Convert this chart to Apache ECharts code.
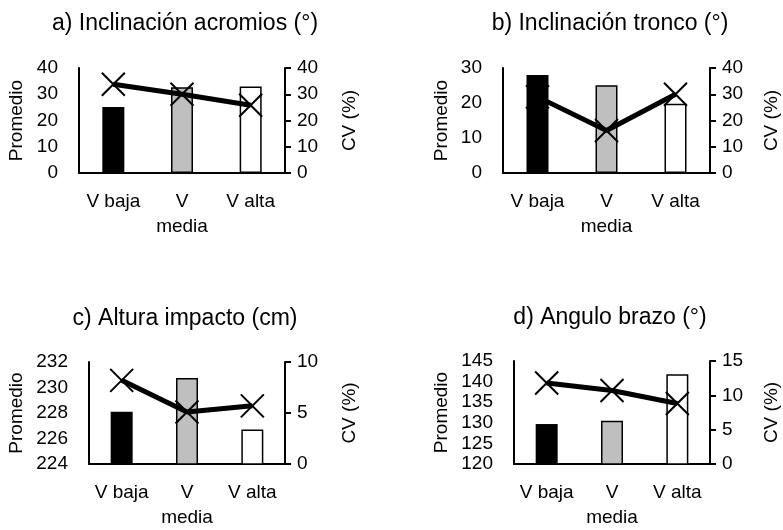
<!DOCTYPE html>
<html><head><meta charset="utf-8">
<script src="https://cdn.jsdelivr.net/npm/echarts@6/dist/echarts.min.js"></script>
<style>html,body{margin:0;padding:0;background:#fff}#c{width:783px;height:530px}</style>
</head><body><div id="c"></div>
<script>
const categories = ['V baja', 'V\nmedia', 'V alta'];
const titles = ['a) Inclinación acromios (°)', 'b) Inclinación tronco (°)', 'c) Altura impacto (cm)', 'd) Angulo brazo (°)'];
const promA = [25.1, 32.7, 33.0];
const cvA = [33.8, 30.0, 25.8];
const promB = [28.0, 25.1, 19.8];
const cvB = [29.0, 16.2, 30.0];
const promC = [228.1, 230.75, 226.7];
const cvC = [8.2, 5.1, 5.7];
const promD = [129.7, 130.5, 141.8];
const cvD = [11.8, 10.7, 8.8];
const leftAxes = [[0, 40, 10], [0, 30, 10], [224, 232, 2], [120, 145, 5]];
const rightAxes = [[0, 40, 10], [0, 40, 10], [0, 10, 5], [0, 15, 5]];

const FONT = '"Liberation Sans", Arial, sans-serif';
const grids = [
  {left: 79, top: 68, width: 206, height: 105},
  {left: 503, top: 68, width: 207, height: 105},
  {left: 89, top: 362, width: 196, height: 104},
  {left: 514, top: 361, width: 196, height: 105}
];
const titlePos = [[180, 7], [605, 7], [180, 302], [605, 301]];
const nameGapL = [53, 52, 63, 63];
const nameGapR = [55, 52, 55, 52];
const proms = [promA, promB, promC, promD];
const cvs = [cvA, cvB, cvC, cvD];
const barFill = ['#000000', '#BFBFBF', '#FFFFFF'];

const option = {
  animation: false,
  backgroundColor: '#fff',
  textStyle: {fontFamily: FONT, color: '#000'},
  title: titles.map((t, i) => ({
    text: t, left: titlePos[i][0], top: titlePos[i][1], textAlign: 'center',
    textStyle: {fontFamily: FONT, fontSize: 23, fontWeight: 'normal', color: '#000'}
  })),
  grid: grids,
  xAxis: grids.map((g, i) => ({
    type: 'category', gridIndex: i, data: categories,
    axisLine: {lineStyle: {color: '#000', width: 2}},
    axisTick: {show: false},
    axisLabel: {color: '#000', fontSize: 19, fontFamily: FONT, lineHeight: 25, margin: 16, interval: 0}
  })),
  yAxis: [],
  series: []
};
grids.forEach((g, i) => {
  option.yAxis.push({
    type: 'value', gridIndex: i, position: 'left',
    min: leftAxes[i][0], max: leftAxes[i][1], interval: leftAxes[i][2],
    name: 'Promedio', nameLocation: 'middle', nameGap: nameGapL[i], nameRotate: 90,
    nameTextStyle: {fontSize: 19, color: '#000', fontFamily: FONT},
    axisLine: {show: true, lineStyle: {color: '#000', width: 2}},
    axisTick: {show: false},
    splitLine: {show: false},
    axisLabel: {color: '#000', fontSize: 19, fontFamily: FONT, margin: 21}
  });
  option.yAxis.push({
    type: 'value', gridIndex: i, position: 'right',
    min: rightAxes[i][0], max: rightAxes[i][1], interval: rightAxes[i][2],
    name: 'CV (%)', nameLocation: 'middle', nameGap: nameGapR[i], nameRotate: 90,
    nameTextStyle: {fontSize: 19, color: '#000', fontFamily: FONT},
    axisLine: {show: true, lineStyle: {color: '#000', width: 2}},
    axisTick: {show: true, inside: false, length: 6, lineStyle: {color: '#000', width: 2}},
    splitLine: {show: false},
    axisLabel: {color: '#000', fontSize: 19, fontFamily: FONT, margin: 12}
  });
  option.series.push({
    type: 'bar', xAxisIndex: i, yAxisIndex: 2 * i, barWidth: 22,
    data: proms[i].map((v, k) => ({
      value: v,
      itemStyle: {color: barFill[k], borderColor: '#000', borderWidth: k === 0 ? 0 : 1.5}
    }))
  });
  option.series.push({
    type: 'line', xAxisIndex: i, yAxisIndex: 2 * i + 1, data: cvs[i],
    lineStyle: {color: '#000', width: 5},
    symbol: 'path://M0,0L10,10M10,0L0,10', symbolSize: 23,
    itemStyle: {color: 'none', borderColor: '#000', borderWidth: 2},
    z: 3
  });
});
const chart = echarts.init(document.getElementById('c'), null, {renderer: 'canvas'});
chart.setOption(option);
</script></body></html>
